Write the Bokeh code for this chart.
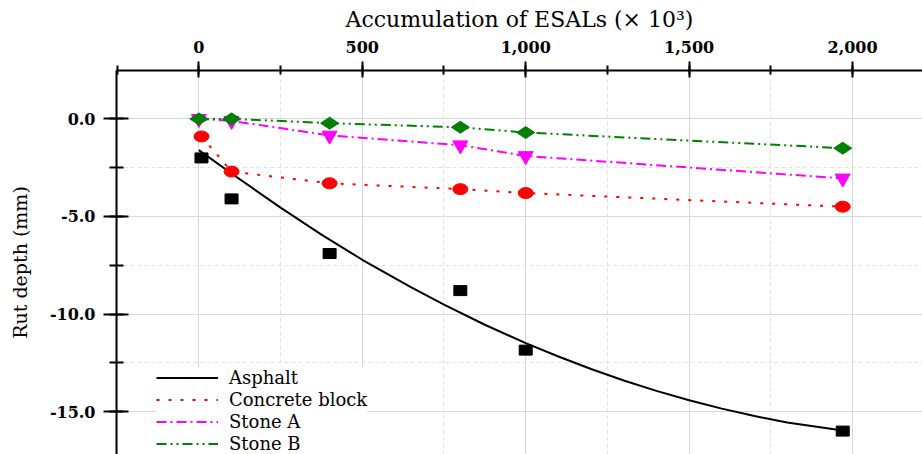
import math
from bokeh.plotting import figure
from bokeh.models import (Range1d, SingleIntervalTicker, NumeralTickFormatter,
                          Legend, LegendItem)
from bokeh.embed import file_html
from bokeh.resources import INLINE

# ---------------- data ----------------
esals_stone = [0, 100, 400, 800, 1000, 1970]
esals_meas = [8, 100, 400, 800, 1000, 1970]

asphalt = [-2.0, -4.1, -6.9, -8.8, -11.85, -16.0]
concrete = [-0.9, -2.7, -3.3, -3.6, -3.8, -4.5]
stone_a = [0.0, -0.1, -0.85, -1.35, -1.9, -3.05]
stone_b = [0.0, 0.0, -0.22, -0.43, -0.7, -1.5]

# asphalt trend curve
curve_x = [0, 100, 250, 375, 500, 650, 750, 875, 1000, 1100, 1200, 1300,
           1400, 1500, 1600, 1700, 1800, 1970]
curve_y = [-1.6, -2.8, -4.55, -5.93, -7.22, -8.64, -9.52, -10.55, -11.49,
           -12.18, -12.82, -13.41, -13.94, -14.42, -14.85, -15.23, -15.56,
           -15.97]

x_ticks_interval = 500
y_ticks_interval = 5

SERIF = "DejaVu Serif"

p = figure(width=922, height=454,
           x_range=Range1d(-252, 2214), y_range=Range1d(-17.2, 2.48),
           x_axis_location="above", y_axis_location="left",
           output_backend="svg", toolbar_location=None,
           min_border_left=116, min_border_top=70,
           min_border_right=0, min_border_bottom=0)
p.outline_line_color = None
p.background_fill_color = "white"

xt = SingleIntervalTicker(interval=x_ticks_interval, num_minor_ticks=2)
yt = SingleIntervalTicker(interval=y_ticks_interval, num_minor_ticks=2)
p.xaxis.ticker = xt
p.yaxis.ticker = yt
p.xgrid.ticker = xt
p.ygrid.ticker = yt

p.xaxis.formatter = NumeralTickFormatter(format="0,0")
p.yaxis.formatter = NumeralTickFormatter(format="0.0")

for ax in (p.xaxis, p.yaxis):
    ax.axis_line_width = 2
    ax.axis_line_color = "black"
    ax.major_tick_line_width = 2
    ax.minor_tick_line_width = 2
    ax.major_tick_line_color = "black"
    ax.minor_tick_line_color = "black"
    ax.major_label_text_font = SERIF
    ax.major_label_text_font_style = "bold"
    ax.major_label_text_font_size = "16px"
    ax.major_label_text_color = "black"
    ax.axis_label_text_font = SERIF
    ax.axis_label_text_font_style = "normal"
    ax.axis_label_text_color = "black"

p.xaxis.major_tick_in = 7
p.xaxis.major_tick_out = 9
p.xaxis.minor_tick_in = 4
p.xaxis.minor_tick_out = 5
p.xaxis.major_label_standoff = 9
p.xaxis.axis_label = "Accumulation of ESALs (\u00d7 10\u00b3)"
p.xaxis.axis_label_text_font_size = "22px"
p.xaxis.axis_label_standoff = 6

p.yaxis.major_tick_in = 12
p.yaxis.major_tick_out = 13
p.yaxis.minor_tick_in = 7
p.yaxis.minor_tick_out = 7
p.yaxis.major_label_standoff = 8
p.yaxis.axis_label = "Rut depth (mm)"
p.yaxis.axis_label_text_font_size = "19px"
p.yaxis.axis_label_standoff = 16

for g in (p.xgrid, p.ygrid):
    g.grid_line_color = "#d8d8d8"
    g.grid_line_width = 1
    g.minor_grid_line_color = "#e2e2e2"
    g.minor_grid_line_dash = "4 3"
    g.minor_grid_line_width = 1

# ---------------- lines ----------------
r_asp = p.line(curve_x, curve_y, line_color="black", line_width=2)
r_con = p.line(esals_meas, concrete, line_color="#ff0000", line_width=2,
               line_dash="3 9")
r_sa = p.line(esals_stone, stone_a, line_color="#ff00ff", line_width=2,
              line_dash="10 4 2 4")
r_sb = p.line(esals_stone, stone_b, line_color="#008000", line_width=2,
              line_dash="10 4 2 4 2 4")

# ---------------- markers ----------------
p.rect(esals_meas, asphalt, width=13, height=10, width_units="screen",
       height_units="screen", fill_color="black", line_color="black")
p.ellipse(esals_meas, concrete, width=15, height=11, width_units="screen",
          height_units="screen", fill_color="#ff0000", line_color="#ff0000")
p.scatter(esals_stone, stone_a, marker="inverted_triangle", size=15,
          fill_color="#ff00ff", line_color="#ff00ff")
p.scatter(esals_stone, stone_b, marker="diamond", size=18, angle=math.pi / 2,
          fill_color="#008000", line_color="#008000")

# ---------------- legend ----------------
legend = Legend(items=[
    LegendItem(label="Asphalt", renderers=[r_asp]),
    LegendItem(label="Concrete block", renderers=[r_con]),
    LegendItem(label="Stone A", renderers=[r_sa]),
    LegendItem(label="Stone B", renderers=[r_sb]),
], location=(40, 0))
legend.background_fill_color = "white"
legend.background_fill_alpha = 1
legend.border_line_color = None
legend.label_text_font = SERIF
legend.label_text_font_size = "18px"
legend.label_text_color = "black"
legend.glyph_width = 62
legend.glyph_height = 21
legend.label_height = 21
legend.spacing = 1
legend.padding = 4
legend.margin = 0
legend.label_standoff = 11
p.add_layout(legend)

open("out.html", "w").write(file_html(p, INLINE))
